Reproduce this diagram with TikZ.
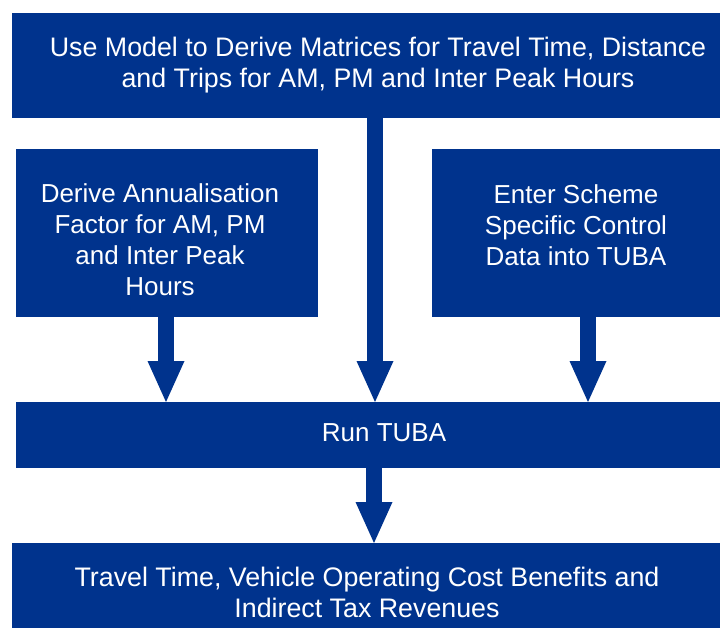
\documentclass[tikz,border=0pt]{standalone}
\usepackage{fontspec}
\setmainfont{Liberation Sans}
\usetikzlibrary{arrows.meta}
\definecolor{navy}{HTML}{00338D}
\begin{document}
\begin{tikzpicture}[x=1pt,y=-1pt,
  box/.style={fill=navy, draw=none, inner sep=0pt, anchor=north west},
  txt/.style={text=white, font=\fontsize{26}{31}\selectfont, align=center, inner sep=0pt},
  widetxt/.style={txt, font=\fontsize{26.8}{31}\selectfont},
  bigarrow/.style={draw=navy, line width=15.5pt, -{Triangle[width=37pt,length=41pt,line width=0pt]}}]
\useasboundingbox (0,0) rectangle (720,628);
% boxes
\node[box, minimum width=708pt, minimum height=105pt] (top) at (12,13) {};
\node[box, minimum width=302pt, minimum height=168pt] (left) at (16,149) {};
\node[box, minimum width=288pt, minimum height=168pt] (right) at (432,149) {};
\node[box, minimum width=704pt, minimum height=66pt] (run) at (16,402) {};
\node[box, minimum width=708pt, minimum height=85pt] (out) at (12,543) {};
% texts
\node[widetxt] (topT) at (378,65) {Use Model to Derive Matrices for Travel Time, Distance\\and Trips for AM, PM and Inter Peak Hours};
\node[txt] (leftT) at (160,240) {Derive Annualisation\\Factor for AM, PM\\and Inter Peak\\Hours};
\node[txt] (rightT) at (576,225) {Enter Scheme\\Specific Control\\Data into TUBA};
\node[txt] (runT) at (384,433) {Run TUBA};
\node[widetxt] (outT) at (367,592) {Travel Time, Vehicle Operating Cost Benefits and\\Indirect Tax Revenues};
% arrow columns
\coordinate (cl) at (166,0);
\coordinate (cm) at (375,0);
\coordinate (cr) at (588,0);
\coordinate (cb) at (374,0);
\draw[bigarrow] (left.south -| cl) -- (run.north -| cl);
\draw[bigarrow] (top.south -| cm) -- (run.north -| cm);
\draw[bigarrow] (right.south -| cr) -- (run.north -| cr);
\draw[bigarrow] (run.south -| cb) -- (out.north -| cb);
\end{tikzpicture}
\end{document}
